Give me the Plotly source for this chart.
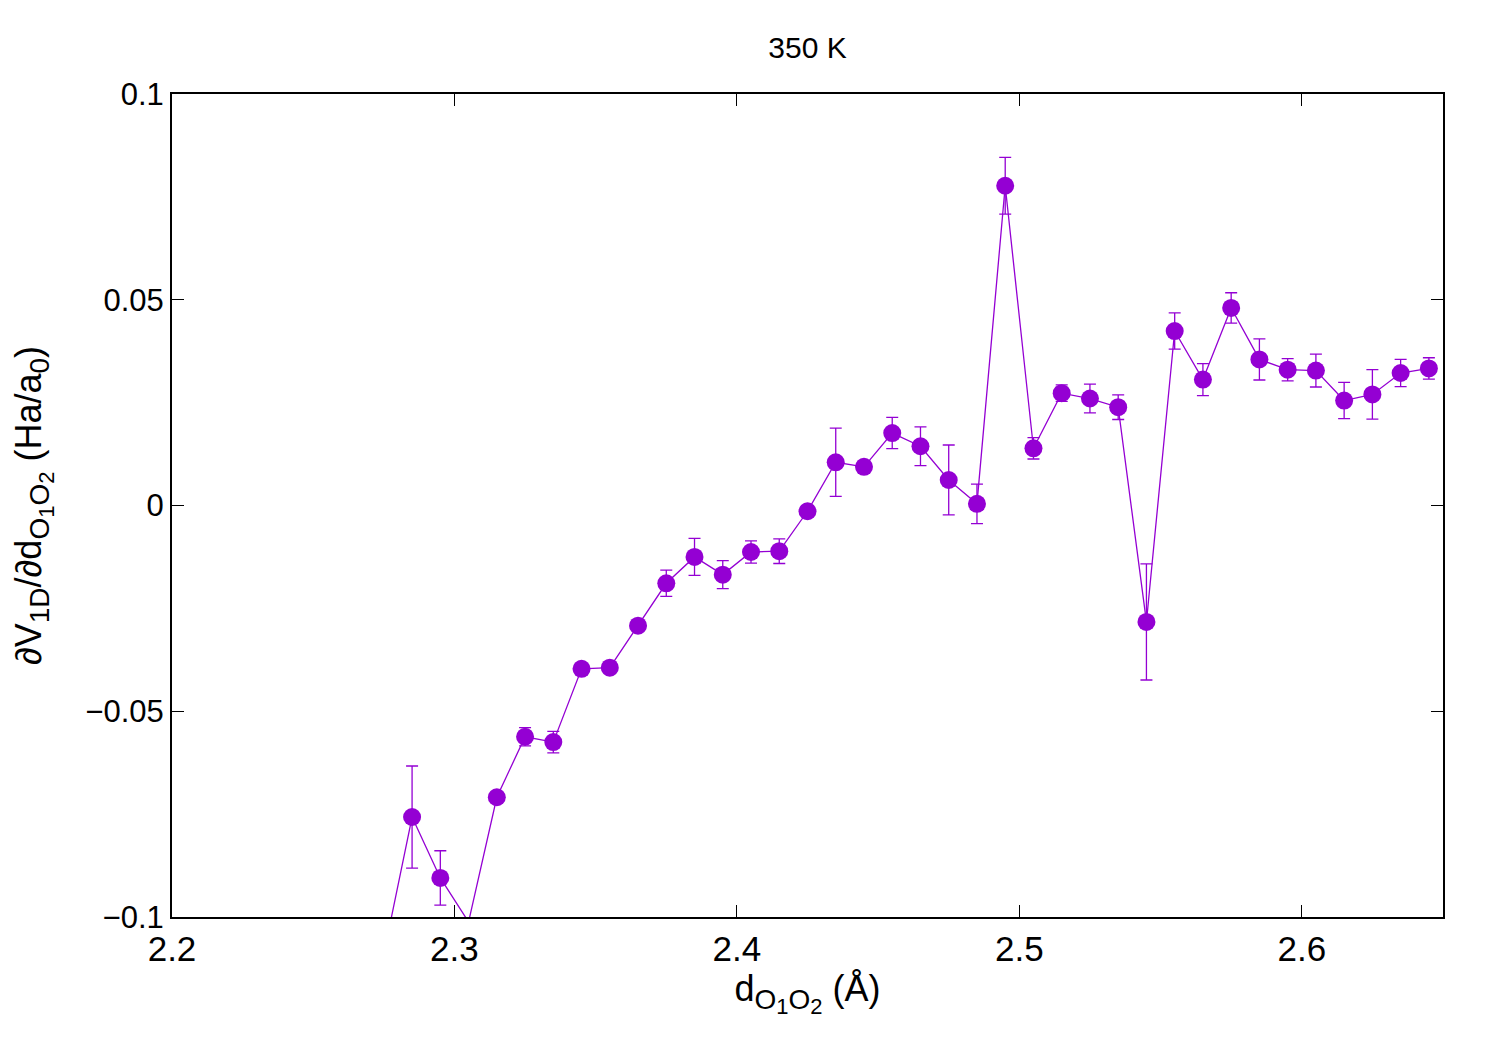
import plotly.graph_objects as go

# Data
d_O1O2 = [2.275, 2.285, 2.295, 2.305, 2.315, 2.325, 2.335, 2.345, 2.355, 2.365,
          2.375, 2.385, 2.395, 2.405, 2.415, 2.425, 2.435, 2.445, 2.455, 2.465,
          2.475, 2.485, 2.495, 2.505, 2.515, 2.525, 2.535, 2.545, 2.555, 2.565,
          2.575, 2.585, 2.595, 2.605, 2.615, 2.625, 2.635, 2.645]
dV_dd = [-0.109, -0.0757, -0.0905, -0.1012, -0.0709, -0.0562, -0.0575, -0.0397, -0.0394, -0.0292,
         -0.0189, -0.0125, -0.0168, -0.0113, -0.0111, -0.0014, 0.0105, 0.0094, 0.0176, 0.0144,
         0.0062, 0.0004, 0.0777, 0.0139, 0.0273, 0.0260, 0.0239, -0.0283, 0.0424, 0.0306,
         0.0480, 0.0355, 0.0330, 0.0328, 0.0255, 0.0270, 0.0322, 0.0333]
err = [0.004, 0.0124, 0.0066, 0.002, 0.0008, 0.0022, 0.0026, 0.0008, 0.0008, 0.0012,
       0.0032, 0.0045, 0.0034, 0.0027, 0.0030, 0.0008, 0.0083, 0.0008, 0.0038, 0.0047,
       0.0085, 0.0048, 0.0069, 0.0026, 0.0020, 0.0035, 0.0030, 0.0141, 0.0044, 0.0039,
       0.0037, 0.0050, 0.0027, 0.0040, 0.0044, 0.0060, 0.0033, 0.0026]

x_ticks = [2.2, 2.3, 2.4, 2.5, 2.6]
x_ticklabels = ["2.2", "2.3", "2.4", "2.5", "2.6"]
y_ticks = [-0.1, -0.05, 0, 0.05, 0.1]
y_ticklabels = ["\u22120.1", "\u22120.05", "0", "0.05", "0.1"]

x_range = [2.2, 2.65]
y_range = [-0.1, 0.1]

color = "#9400D3"
font = "Liberation Sans, Arial, sans-serif"

# points inside the plotting window (gnuplot does not draw out-of-range symbols)
inside = [i for i, v in enumerate(dV_dd) if y_range[0] <= v <= y_range[1]]

fig = go.Figure()
fig.add_trace(go.Scatter(
    x=d_O1O2, y=dV_dd, mode="lines",
    line=dict(color=color, width=1.3),
    hoverinfo="skip", showlegend=False,
))
fig.add_trace(go.Scatter(
    x=[d_O1O2[i] for i in inside], y=[dV_dd[i] for i in inside],
    mode="markers",
    marker=dict(color=color, size=18, symbol="circle"),
    error_y=dict(type="data", array=[err[i] for i in inside], visible=True,
                 color=color, thickness=1.3, width=6),
    showlegend=False,
))


def s1(t):
    return "<span style='font-size:28px'>" + t + "</span>"


def s2(t):
    return "<span style='font-size:22px'>" + t + "</span>"


o1o2 = s1("O") + "<sub>" + s2("1") + "</sub>" + s1("O") + "<sub>" + s2("2") + "</sub>"

fig.update_layout(
    width=1500, height=1050,
    paper_bgcolor="white", plot_bgcolor="white",
    margin=dict(l=164, r=65, t=86, b=141, autoexpand=False),
    font=dict(family=font, color="black"),
    title=dict(text="350 K", x=799.5 / 1500, xanchor="center",
               y=1 - 39 / 1050, yanchor="middle",
               font=dict(size=30, family=font, color="black")),
    xaxis=dict(
        range=x_range, tickvals=x_ticks, ticktext=x_ticklabels,
        ticks="inside", ticklen=12, tickwidth=1.2, tickcolor="black",
        showline=True, linecolor="black", linewidth=2, mirror="allticks",
        showgrid=False, zeroline=False,
        tickfont=dict(size=35, family=font, color="black"),
        title=dict(text="d<sub>" + o1o2 + "</sub> (Å)",
                   font=dict(size=36, family=font, color="black"), standoff=6),
    ),
    yaxis=dict(
        range=y_range, tickvals=y_ticks, ticktext=y_ticklabels,
        ticks="inside", ticklen=12, tickwidth=1.2, tickcolor="black",
        showline=True, linecolor="black", linewidth=2, mirror="allticks",
        showgrid=False, zeroline=False,
        tickfont=dict(size=31, family=font, color="black"),
        title=dict(text="\u2202V<sub>" + s1("1D") + "</sub>/\u2202d<sub>" + o1o2
                   + "</sub> (Ha/a<sub>" + s1("0") + "</sub>)",
                   font=dict(size=36, family=font, color="black"), standoff=38),
    ),
)

fig.write_html("out.html")
